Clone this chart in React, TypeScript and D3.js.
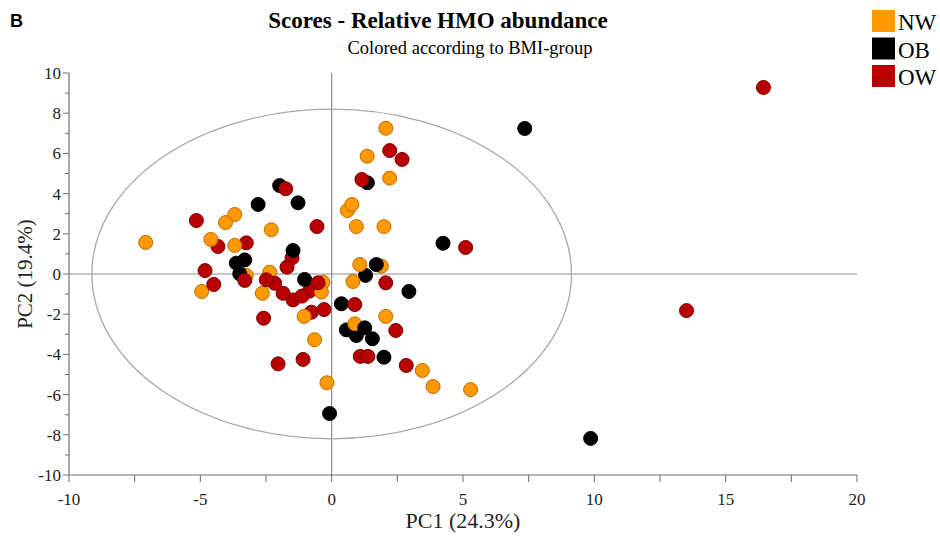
import React, { useRef, useEffect } from "react";
import * as d3 from "d3";

// scores, [PC1, PC2]
const nwPoints: [number, number][] = [
  [-7.08, 1.57], [-4.95, -0.87], [-4.6, 1.72], [-4.04, 2.56], [-3.69, 2.96],
  [-3.69, 1.42], [-2.3, 2.2], [-2.36, 0.09], [-2.64, -0.96], [-0.39, -0.9],
  [-0.33, -0.41], [-3.25, -0.07], [-1.05, -2.11], [-0.65, -3.27], [-0.18, -5.41],
  [2.06, 7.25], [1.35, 5.86], [2.21, 4.77], [0.77, 3.46], [0.6, 3.16],
  [0.94, 2.36], [1.99, 2.36], [1.07, 0.47], [1.89, 0.39], [0.81, -0.37],
  [2.06, -2.11], [0.88, -2.48], [3.45, -4.8], [3.86, -5.6], [5.29, -5.75],
];
const obPoints: [number, number][] = [
  [-1.98, 4.4], [-2.8, 3.46], [-1.28, 3.54], [-1.47, 1.17], [-3.63, 0.54],
  [-3.31, 0.7], [-3.5, 0.01], [-1.03, -0.27], [0.37, -1.48], [1.36, 4.54],
  [4.24, 1.53], [1.7, 0.47], [1.29, -0.07], [2.94, -0.87], [0.56, -2.78],
  [0.94, -3.06], [1.26, -2.68], [1.55, -3.22], [1.99, -4.14], [7.35, 7.24],
  [9.86, -8.18], [-0.08, -6.94],
];
const owPoints: [number, number][] = [
  [-1.75, 4.24], [-5.15, 2.66], [-0.56, 2.36], [-3.25, 1.55], [-4.33, 1.37],
  [-1.51, 0.8], [-1.7, 0.34], [-4.82, 0.17], [-4.49, -0.52], [-3.31, -0.32],
  [-2.49, -0.29], [-2.17, -0.46], [-1.85, -0.96], [-1.47, -1.29], [-1.13, -1.1],
  [-0.84, -0.85], [-0.52, -0.44], [-0.77, -1.9], [-0.29, -1.77], [-2.59, -2.2],
  [-2.04, -4.47], [-1.09, -4.25], [0.88, -1.52], [2.21, 6.14], [2.68, 5.7],
  [1.15, 4.7], [2.06, -0.44], [2.44, -2.81], [1.09, -4.1], [1.38, -4.1],
  [2.84, -4.55], [5.1, 1.32], [16.44, 9.28], [13.51, -1.82],
];

const groups = ["NW", "OB", "OW"];
const fills = ["#FF9900", "#000000", "#B80000"];
const strokes = ["#C06A00", "#000000", "#7A0000"];

const xTicks = [-10, -5, 0, 5, 10, 15, 20];
const yTicks = [-10, -8, -6, -4, -2, 0, 2, 4, 6, 8, 10];
// confidence ellipse half axes (in score units)
const ellipseRx = 9.13;
const ellipseRy = 8.2;

const serif = "'Liberation Serif', 'Times New Roman', serif";

function App() {
  const ref = useRef<SVGSVGElement>(null);

  useEffect(() => {
    document.body.style.margin = "0";
    const svg = d3.select(ref.current);
    svg.selectAll("*").remove();

    const left = 69, right = 857, top = 73, bottom = 475;
    const x = d3.scaleLinear().domain([-10, 20]).range([left, right]);
    const y = d3.scaleLinear().domain([-10, 10]).range([bottom, top]);

    // zero lines
    svg.append("line")
      .attr("x1", x(0)).attr("x2", x(0)).attr("y1", top).attr("y2", bottom)
      .attr("stroke", "#8c8c8c").attr("stroke-width", 1.2);
    svg.append("line")
      .attr("x1", left).attr("x2", right).attr("y1", y(0)).attr("y2", y(0))
      .attr("stroke", "#8c8c8c").attr("stroke-width", 1.2);

    // ellipse
    svg.append("ellipse")
      .attr("cx", x(0)).attr("cy", y(0))
      .attr("rx", x(ellipseRx) - x(0)).attr("ry", y(0) - y(ellipseRy))
      .attr("fill", "none").attr("stroke", "#a8a8a8").attr("stroke-width", 1.3);

    // axes
    const axisColor = "#6e6e6e";
    const xMinor = d3.range(-10, 20.01, 2.5);
    const yMinor = d3.range(-10, 10.01, 1);

    const gx = svg.append("g");
    gx.append("line").attr("x1", left).attr("x2", right).attr("y1", bottom).attr("y2", bottom)
      .attr("stroke", axisColor).attr("stroke-width", 1.2);
    gx.selectAll(".mt").data(xMinor).join("line")
      .attr("x1", d => x(d)).attr("x2", d => x(d))
      .attr("y1", bottom).attr("y2", bottom + 7)
      .attr("stroke", axisColor).attr("stroke-width", 1);
    gx.selectAll("text").data(xTicks).join("text")
      .attr("x", d => x(d)).attr("y", bottom + 30)
      .attr("text-anchor", "middle")
      .attr("font-family", serif).attr("font-size", 17).attr("fill", "#222")
      .text(d => String(d));

    const gy = svg.append("g");
    gy.append("line").attr("x1", left).attr("x2", left).attr("y1", top).attr("y2", bottom)
      .attr("stroke", axisColor).attr("stroke-width", 1.2);
    gy.selectAll(".mt").data(yMinor).join("line")
      .attr("x1", d => left - (d % 2 === 0 ? 6 : 4)).attr("x2", left)
      .attr("y1", d => y(d)).attr("y2", d => y(d))
      .attr("stroke", axisColor).attr("stroke-width", 1);
    gy.selectAll("text").data(yTicks).join("text")
      .attr("x", left - 8).attr("y", d => y(d) + 6)
      .attr("text-anchor", "end")
      .attr("font-family", serif).attr("font-size", 17).attr("fill", "#222")
      .text(d => String(d));

    // axis titles
    svg.append("text")
      .attr("x", 463).attr("y", 528).attr("text-anchor", "middle")
      .attr("font-family", serif).attr("font-size", 22).attr("fill", "#222")
      .text("PC1 (24.3%)");
    svg.append("text")
      .attr("transform", `translate(32,${y(0)}) rotate(-90)`)
      .attr("text-anchor", "middle")
      .attr("font-family", serif).attr("font-size", 21).attr("fill", "#222")
      .text("PC2 (19.4%)");

    // titles
    svg.append("text")
      .attr("x", 10).attr("y", 27)
      .attr("font-family", "'Liberation Sans', Arial, sans-serif")
      .attr("font-weight", "bold").attr("font-size", 18)
      .text("B");
    svg.append("text")
      .attr("x", 438).attr("y", 28).attr("text-anchor", "middle")
      .attr("font-family", serif).attr("font-weight", "bold").attr("font-size", 23)
      .text("Scores - Relative HMO abundance");
    svg.append("text")
      .attr("x", 470).attr("y", 54).attr("text-anchor", "middle")
      .attr("font-family", serif).attr("font-size", 18.5)
      .text("Colored according to BMI-group");

    // points
    const all = [nwPoints, obPoints, owPoints].flatMap((pts, gi) =>
      pts.map(p => ({ x: p[0], y: p[1], g: gi }))
    );
    // interleave a bit so overlaps mix like the original
    all.sort((a, b) => (a.x * 7.3 + a.y * 3.1) % 1 - (b.x * 7.3 + b.y * 3.1) % 1);
    svg.append("g").selectAll("circle").data(all).join("circle")
      .attr("cx", d => x(d.x)).attr("cy", d => y(d.y)).attr("r", 7)
      .attr("fill", d => fills[d.g])
      .attr("stroke", d => strokes[d.g]).attr("stroke-width", 1);

    // legend
    const lg = svg.append("g");
    groups.forEach((name, i) => {
      lg.append("rect")
        .attr("x", 872).attr("y", 10 + i * 27.5).attr("width", 23).attr("height", 22)
        .attr("fill", fills[i]);
      lg.append("text")
        .attr("x", 898).attr("y", 30 + i * 27.5)
        .attr("font-family", serif).attr("font-size", 23)
        .text(name);
    });
  }, []);

  return <svg ref={ref} width={940} height={537} style={{ display: "block" }}></svg>;
}

export default App;
